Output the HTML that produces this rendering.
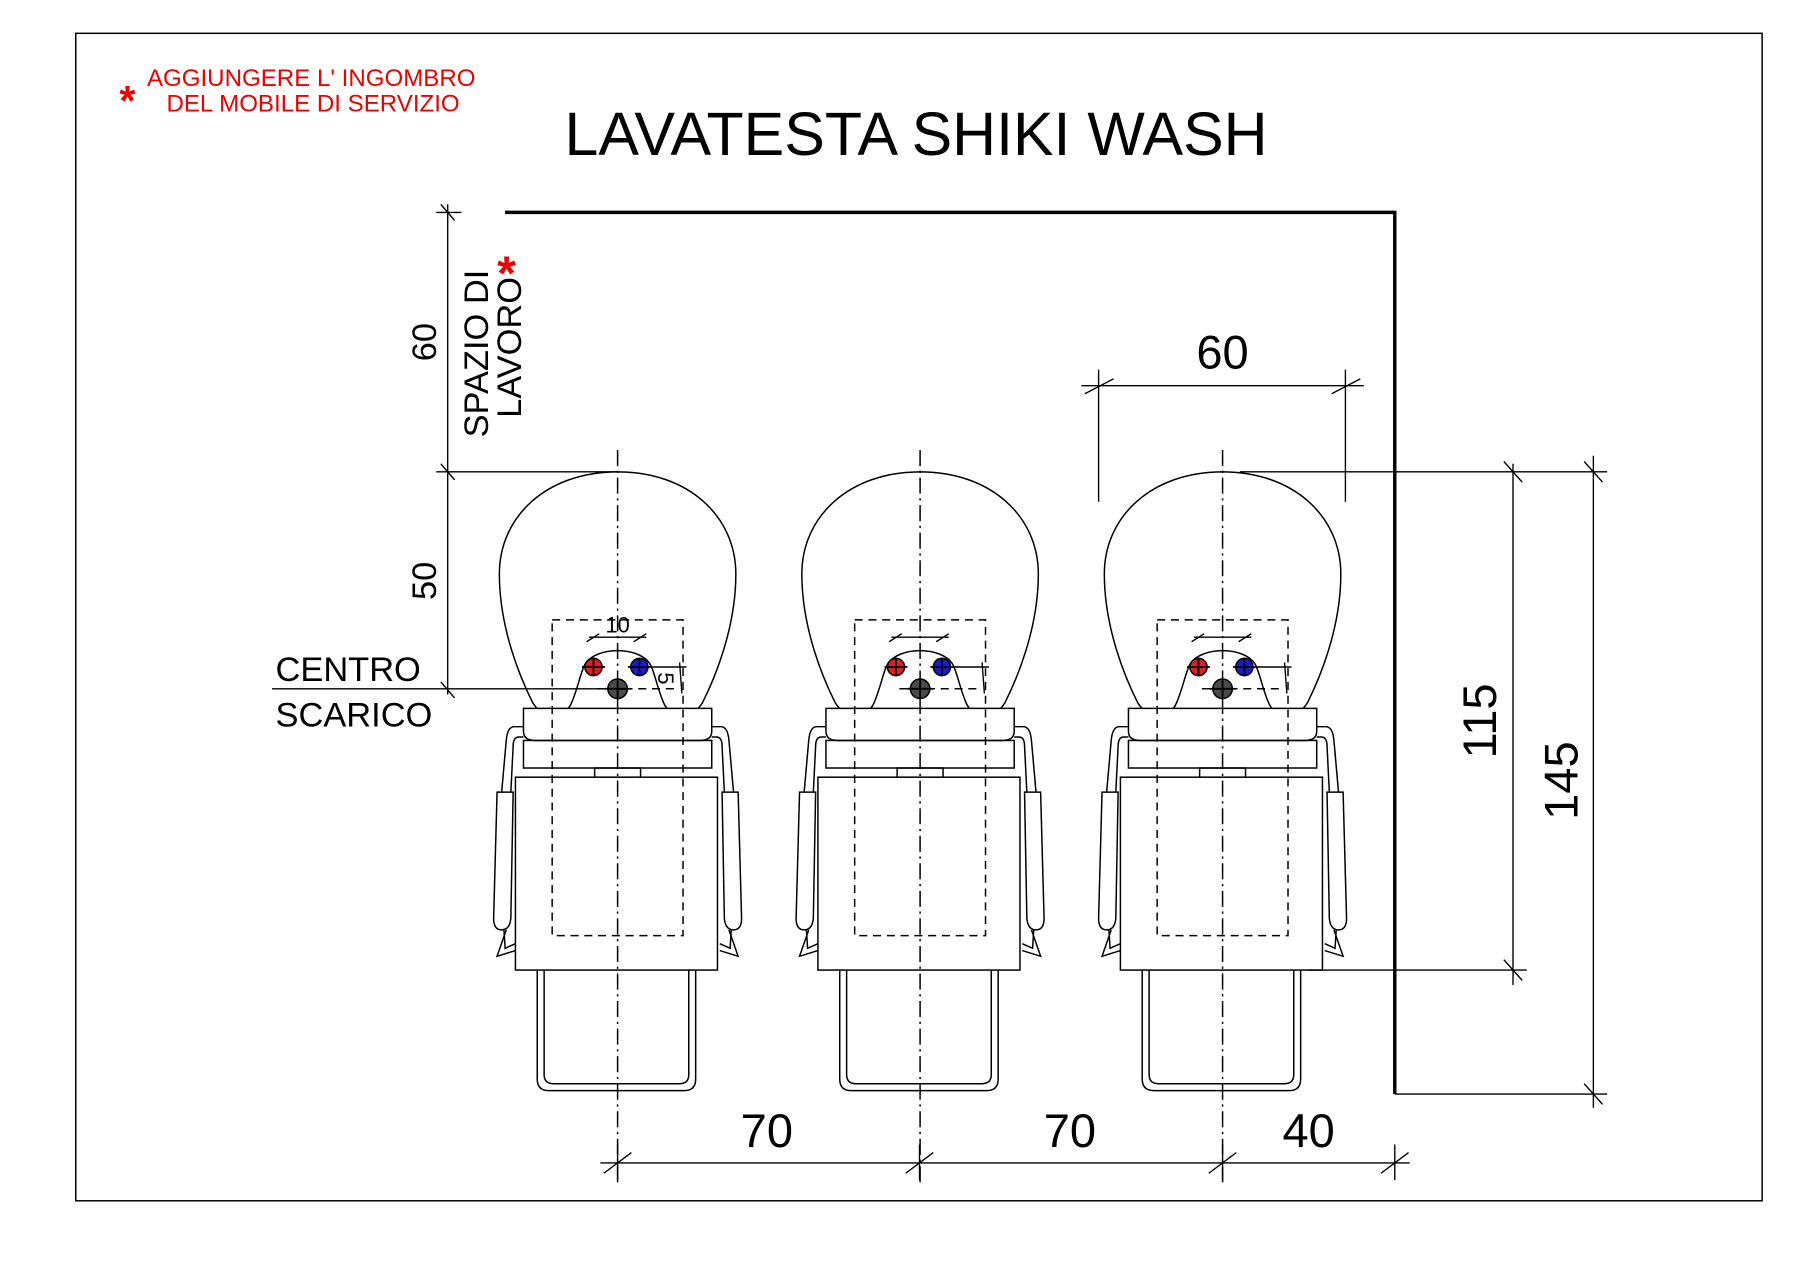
<!DOCTYPE html>
<html><head><style>html,body{margin:0;padding:0;background:#fff}svg{display:block}</style></head>
<body>
<svg width="1800" height="1272" viewBox="0 0 1568 1108" xmlns="http://www.w3.org/2000/svg" font-family="Liberation Sans, Arial, sans-serif">
<defs>
<g id="chair" fill="none" stroke="#000" stroke-width="1.3">
  <path d="M538,411 C600,411 641,450 641,500 C641,548 622,592 612,612 C603,627 584,627 578,612 C572,598 570,584 566,578 C556,563 520,563 510,578 C506,584 504,598 498,612 C492,627 473,627 464,612 C454,592 435,548 435,500 C435,450 476,411 538,411 Z" fill="#fff"/>
  <path d="M456,617 H620 V637 Q620,645 610,645 H466 Q456,645 456,637 Z" fill="#fff"/>
  <rect x="456" y="645" width="164" height="24"/>
  <rect x="518" y="669" width="40" height="8"/>
  <path d="M456,633 H448 Q442,633 441,645 L437,690 M441,810 L433,833 L449,828"/>
  <path d="M456,642 H452 Q447,642 447,650 L445,690 M439,810 L440,826 L449,822"/>
  <path d="M620,633 H628 Q634,633 635,645 L639,690 M635,810 L643,833 L627,828"/>
  <path d="M620,642 H624 Q629,642 629,650 L631,690 M637,810 L636,826 L627,822"/>
  <path d="M433,690 H447 L445,800 Q444,810 437,810 Q430,810 430,800 Z" fill="#fff"/>
  <path d="M629,690 H643 L646,800 Q646,810 639,810 Q632,810 631,800 Z" fill="#fff"/>
  <rect x="449" y="677" width="176" height="168" fill="#fff"/>
  <path d="M468,845 V940 Q468,950 478,950 H596 Q606,950 606,940 V845"/>
  <path d="M474,845 V936 Q474,944 482,944 H592 Q600,944 600,936 V845"/>
  <rect x="481" y="540" width="114" height="275" stroke-dasharray="7,5"/>
  <line x1="538" y1="392" x2="538" y2="1030" stroke-dasharray="14,4,2,4"/>
  <line x1="520" y1="600" x2="590" y2="600" stroke-dasharray="7,5"/>
  <line x1="568" y1="581" x2="598" y2="581"/>
  <circle cx="517" cy="581" r="7.5" fill="#e02020"/>
  <circle cx="557" cy="581" r="7.5" fill="#1a1ad0"/>
  <circle cx="538" cy="600" r="8.5" fill="#4a4a4a"/>
  <path d="M507,581 H527 M517,573 V589 M547,581 H567 M557,573 V589 M527,600 H549 M538,592 V608" stroke-width="1.6"/>
  <path d="M513,555 H563 M511,559 L522,552 M552,559 L563,552 M592,577 L594,604" stroke-width="1.2"/>
</g>
</defs>
<rect width="1568" height="1108" fill="#fff"/>
<rect x="66" y="29" width="1469" height="1017" fill="none" stroke="#000" stroke-width="1.3"/>
<text x="104" y="100" fill="#e00" font-size="36" font-weight="bold">*</text>
<text x="128" y="75" fill="#e00" font-size="21">AGGIUNGERE L' INGOMBRO</text>
<text x="145" y="97" fill="#e00" font-size="21">DEL MOBILE DI SERVIZIO</text>
<text x="798" y="135" text-anchor="middle" font-size="53">LAVATESTA SHIKI WASH</text>

<use href="#chair"/>
<use href="#chair" transform="translate(263.5,0)"/>
<use href="#chair" transform="translate(527,0)"/>
<text x="538" y="551" text-anchor="middle" font-size="19">10</text>
<text transform="translate(573,591) rotate(90)" text-anchor="middle" font-size="19">5</text>

<g stroke="#000" fill="none">
<path d="M440,185 H1215 V953" stroke-width="3"/>
<g stroke-width="1.2">
<path d="M390,178 V605 M380,185 H402 M380,411 H538 M237,600 H538"/>
<path d="M384,178 L396,192 M384,404 L396,418 M384,594 L396,608"/>
<path d="M942,336 H1188 M957,322 V437 M1172,322 V437 M945,343 L970,330 M1160,343 L1185,330"/>
<path d="M1080,411 H1400 M1140,845 H1330 M1215,953 H1400 M1318,404 V858 M1388,397 V965"/>
<path d="M1310,402 L1326,420 M1310,836 L1326,854 M1380,402 L1396,420 M1380,944 L1396,962"/>
<path d="M523,1013 H1228 M538,997 V1028 M801,997 V1028 M1065,997 V1028 M1215,997 V1028"/>
<path d="M526,1022 L550,1004 M789,1022 L813,1004 M1053,1022 L1077,1004 M1203,1022 L1227,1004"/>
</g>
</g>
<g font-size="30">
<text transform="translate(380,298) rotate(-90)" text-anchor="middle">60</text>
<text transform="translate(380,506) rotate(-90)" text-anchor="middle">50</text>
<text x="240" y="593">CENTRO</text>
<text x="240" y="633">SCARICO</text>
<text transform="translate(425,381) rotate(-90)">SPAZIO DI</text>
<text transform="translate(454,364) rotate(-90)">LAVORO</text>
</g>
<text x="433" y="252" fill="#e00" font-size="42" font-weight="bold">*</text>
<g font-size="41">
<text x="1065" y="321" text-anchor="middle">60</text>
<text x="668" y="999" text-anchor="middle">70</text>
<text x="932" y="999" text-anchor="middle">70</text>
<text x="1140" y="999" text-anchor="middle">40</text>
<text transform="translate(1303,628) rotate(-90)" text-anchor="middle">115</text>
<text transform="translate(1374,680) rotate(-90)" text-anchor="middle">145</text>
</g>
</svg>
</body></html>
